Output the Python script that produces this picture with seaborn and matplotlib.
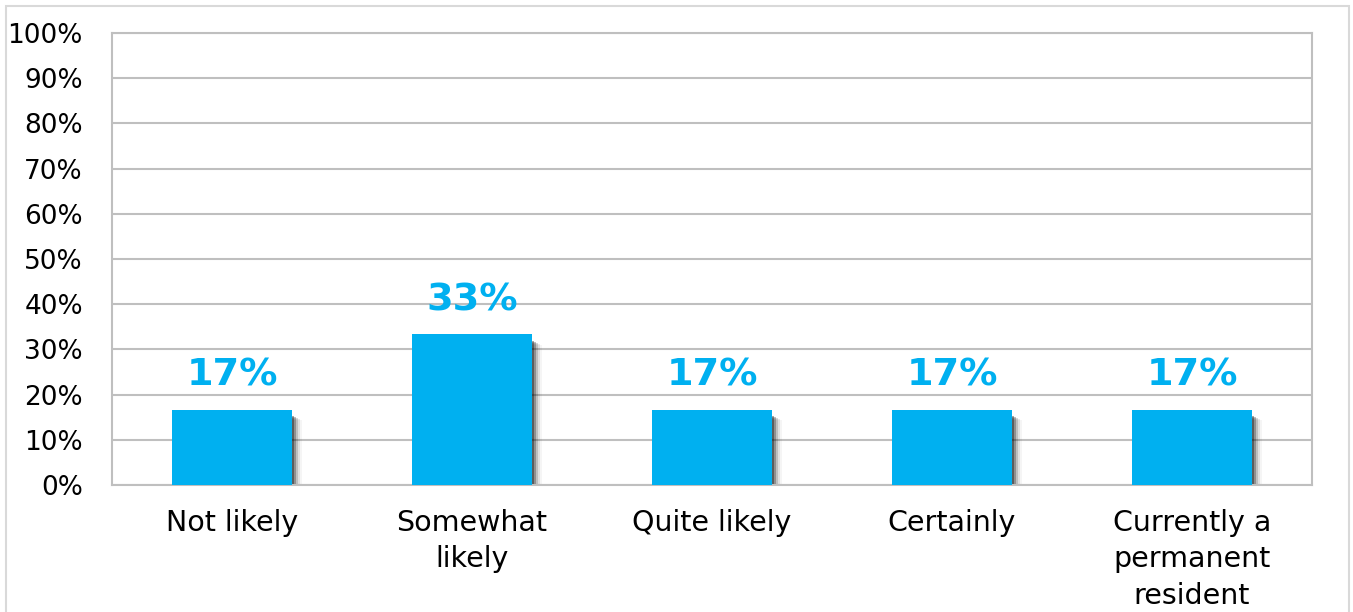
import matplotlib
matplotlib.use("Agg")
import matplotlib.pyplot as plt
import matplotlib.transforms as mtransforms
from matplotlib.patches import Rectangle
import seaborn as sns
import pandas as pd

# Survey answers and their shares (percent)
categories = ["Not likely", "Somewhat\nlikely", "Quite likely", "Certainly",
              "Currently a\npermanent\nresident"]
shares = [16.7, 33.3, 16.7, 16.7, 16.7]
y_ticks = list(range(0, 101, 10))

BLUE = "#00B0F0"
GRID = "#BFBFBF"

sns.set_theme(style="white")
plt.rcParams["font.family"] = ["DejaVu Sans"]

fig = plt.figure(figsize=(13.53, 6.12), dpi=100)
ax = fig.add_axes([112 / 1353, 1 - 485 / 612, 1200 / 1353, 452 / 612])

df = pd.DataFrame({"answer": categories, "share": shares})
sns.barplot(data=df, x="answer", y="share", color=BLUE, saturation=1,
            width=0.5, ax=ax, zorder=3)

# Soft drop shadow behind each bar
bars = list(ax.patches)
for bar in bars:
    for dx, dy, a in [(2, 1.5, 0.35), (4, 2.5, 0.25), (6, 3.5, 0.15),
                      (8, 4.5, 0.08), (10, 5, 0.04)]:
        tr = mtransforms.offset_copy(ax.transData, fig=fig, x=dx, y=-dy,
                                     units="dots")
        sh = Rectangle((bar.get_x(), bar.get_y()), bar.get_width(),
                       bar.get_height() - 1.2, transform=tr,
                       facecolor="black", alpha=a, edgecolor="none", zorder=2)
        ax.add_patch(sh)
    bar.set_edgecolor("none")

# Value labels
for bar, v in zip(bars, shares):
    ax.annotate(f"{v:.0f}%", (bar.get_x() + bar.get_width() / 2, v),
                xytext=(0, 17), textcoords="offset points",
                ha="center", va="baseline", color=BLUE,
                fontsize=27.5, fontweight="bold", zorder=4)

ax.set_ylim(0, 100)
ax.set_yticks(y_ticks)
ax.set_yticklabels([f"{t}%" for t in y_ticks])
ax.yaxis.grid(True, color=GRID, linewidth=1.5, zorder=0)
ax.set_axisbelow(True)
ax.set_xlabel("")
ax.set_ylabel("")
ax.tick_params(axis="y", length=0, pad=21, labelsize=19, labelcolor="black")
ax.tick_params(axis="x", length=0, pad=17, labelsize=20.5, labelcolor="black")
for lbl in ax.get_xticklabels():
    lbl.set_linespacing(1.4)
for s in ax.spines.values():
    s.set_visible(True)
    s.set_color(GRID)
    s.set_linewidth(1.5)

# Chart frame
fig.patches.append(Rectangle((6 / 1353, -0.1), 1343 / 1353, 1.1 - 6 / 612,
                             transform=fig.transFigure, fill=False,
                             edgecolor="#D9D9D9", linewidth=1.5))

fig.savefig("out.png", dpi=100, facecolor="white")
